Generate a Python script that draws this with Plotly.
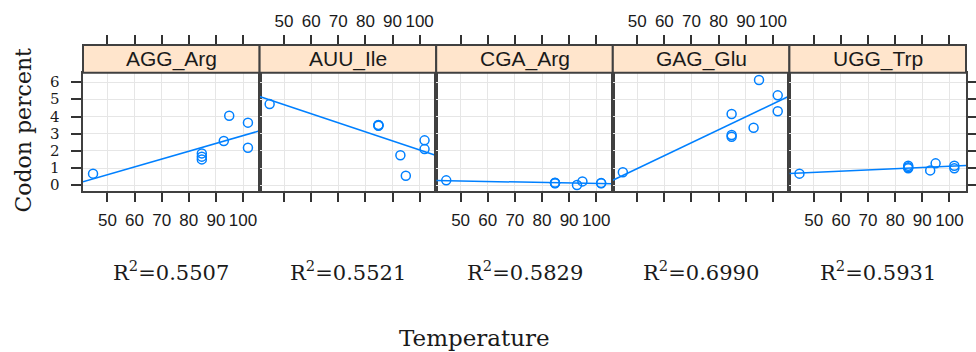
import numpy as np
import plotly.graph_objects as go

# ---------------- data ----------------
temperature = [44.7, 84.8, 84.8, 84.8, 92.9, 94.9, 101.8, 101.8]
codons = ["AGG_Arg", "AUU_Ile", "CGA_Arg", "GAG_Glu", "UGG_Trp"]
agg_arg = [0.68, 1.86, 1.67, 1.51, 2.58, 4.05, 3.65, 2.19]
auu_ile = [4.73, 3.52, 3.47, 3.50, 1.75, 0.56, 2.62, 2.11]
cga_arg = [0.29, 0.15, 0.12, 0.13, 0.02, 0.23, 0.13, 0.12]
gag_glu = [0.76, 4.15, 2.93, 2.83, 3.35, 6.13, 5.24, 4.31]
ugg_trp = [0.68, 1.14, 1.05, 0.99, 0.87, 1.28, 1.14, 0.99]
r2_labels = ["0.5507", "0.5521", "0.5829", "0.6990", "0.5931"]
x_ticks = [50, 60, 70, 80, 90, 100]
y_ticks = [0, 1, 2, 3, 4, 5, 6]

series = [agg_arg, auu_ile, cga_arg, gag_glu, ugg_trp]

# ---------------- style ----------------
W, H = 976, 352
ML, MR, MT, MB = 83, 1, 45, 161
PW, PH = W - ML - MR, H - MT - MB
plot_top_px = 72.7
ydom_top = (H - MB - plot_top_px) / PH
XR = [41.0, 106.1]
YR = [-0.33, 6.56]
BLUE = "#0080ff"
BORDER = "#404040"
GRID = "#e6e6e6"
TXT = "#1a1a1a"
SANS = "Liberation Sans, Arial, sans-serif"
SERIF = "DejaVu Serif, serif"


def py(px):
    return (H - MB - px) / PH


def pxx(px):
    return (px - ML) / PW


fig = go.Figure()
layout = dict(
    width=W, height=H,
    margin=dict(l=ML, r=MR, t=MT, b=MB, pad=0),
    paper_bgcolor="white", plot_bgcolor="white",
    showlegend=False,
    shapes=[], annotations=[],
)

n = len(codons)
for i, (name, vals) in enumerate(zip(codons, series)):
    k = "" if i == 0 else str(i + 1)
    xa, ya = "x" + k, "y" + k
    t = np.array(temperature)
    v = np.array(vals)
    fig.add_trace(go.Scatter(
        x=temperature, y=vals, mode="markers", xaxis=xa, yaxis=ya,
        marker=dict(symbol="circle-open", size=9, color=BLUE, line=dict(width=1.5, color=BLUE)),
        hoverinfo="skip"))
    slope, icpt = np.polyfit(t, v, 1)
    lx = np.array(XR)
    fig.add_trace(go.Scatter(
        x=lx, y=slope * lx + icpt, mode="lines", xaxis=xa, yaxis=ya,
        line=dict(color=BLUE, width=1.5), hoverinfo="skip", cliponaxis=True))

    dom = [i / n, (i + 1) / n]
    bottom_labels = (i % 2 == 0)
    layout["xaxis" + k] = dict(
        domain=dom, anchor=ya, range=XR, tickmode="array", tickvals=x_ticks,
        ticks="outside", ticklen=9, tickwidth=1.5, tickcolor="#333",
        showticklabels=bottom_labels, tickangle=0, ticklabelstandoff=4,
        tickfont=dict(family=SANS, size=17, color=TXT),
        showgrid=True, gridcolor=GRID, gridwidth=1, zeroline=False,
        showline=True, linecolor=BORDER, linewidth=2, mirror=True)
    ydict = dict(
        domain=[0, ydom_top], anchor=xa, range=YR, tickmode="array", tickvals=y_ticks,
        showgrid=True, gridcolor=GRID, gridwidth=1, zeroline=False,
        showline=True, linecolor=BORDER, linewidth=2, mirror=True,
        showticklabels=False)
    if i == 0:
        ydict.update(ticks="outside", ticklen=10, tickwidth=1.5, tickcolor="#333")
    elif i == n - 1:
        ydict.update(side="right", ticks="outside", ticklen=9, tickwidth=1.5,
                     tickcolor="#333")
    else:
        ydict.update(ticks="")
    layout["yaxis" + k] = ydict

    # top axis (ticks above the strip)
    tk = str(n + 1 + i)
    fig.add_trace(go.Scatter(x=[], y=[], xaxis="x" + tk, yaxis="y" + str(2 * n + 1),
                             mode="markers", hoverinfo="skip"))
    layout["xaxis" + tk] = dict(
        domain=dom, anchor="y" + str(2 * n + 1), side="top", range=XR,
        tickmode="array", tickvals=x_ticks, ticks="outside", ticklen=9,
        tickwidth=1.5, tickcolor="#333", showticklabels=not bottom_labels,
        tickangle=0, ticklabelstandoff=1,
        tickfont=dict(family=SANS, size=17, color=TXT),
        showgrid=False, zeroline=False, showline=False)

    # strip
    layout["shapes"].append(dict(
        type="rect", xref=xa + " domain", yref="paper", x0=0, x1=1,
        y0=ydom_top, y1=1, fillcolor="#ffe5cc", line=dict(color=BORDER, width=2)))
    layout["annotations"].append(dict(
        text=name, xref="paper", yref="paper", x=(i + 0.5) / n, y=py(59.5),
        xanchor="center", yanchor="middle", showarrow=False,
        font=dict(family=SANS, size=21, color=TXT)))
    layout["annotations"].append(dict(
        text="R<sup>2</sup>=" + r2_labels[i], xref="paper", yref="paper",
        x=(i + 0.5) / n, y=py(271), xanchor="center", yanchor="middle",
        showarrow=False, font=dict(family=SERIF, size=21, color=TXT)))

# y tick labels (left of panel 1), placed through the y axis scale
for yt in y_ticks:
    layout["annotations"].append(dict(
        text=str(yt), xref="paper", yref="y", x=pxx(61), y=yt,
        xanchor="right", yanchor="middle", showarrow=False,
        height=14, valign="middle", borderpad=0,
        font=dict(family=SERIF, size=15, color=TXT)))

layout["yaxis" + str(2 * n + 1)] = dict(domain=[ydom_top, 1], anchor="x" + str(n + 1),
                                        visible=False, range=[0, 1])

layout["annotations"].append(dict(
    text="Temperature", xref="paper", yref="paper", x=pxx(478), y=py(338),
    xanchor="center", yanchor="middle", showarrow=False,
    font=dict(family=SERIF, size=23, color=TXT)))
layout["annotations"].append(dict(
    text="Codon percent", xref="paper", yref="paper", x=pxx(22), y=py(130),
    xanchor="center", yanchor="middle", textangle=-90, showarrow=False,
    font=dict(family=SERIF, size=22, color=TXT)))

fig.update_layout(**layout)
fig.write_html("out.html")
